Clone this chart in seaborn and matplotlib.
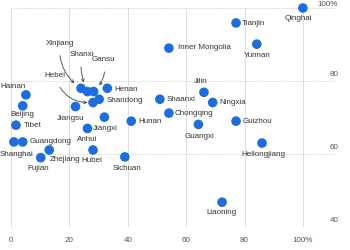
import matplotlib
matplotlib.use("Agg")
import matplotlib.pyplot as plt
import seaborn as sns
import pandas as pd

provinces = ["Qinghai", "Tianjin", "Yunnan", "Inner Mongolia", "Jilin", "Ningxia",
             "Shaanxi", "Chongqing", "Guizhou", "Guangxi", "Heilongjiang", "Liaoning",
             "Hunan", "Sichuan", "Hubei", "Anhui", "Jiangxi", "Jiangsu", "Henan",
             "Shandong", "Hebei", "Gansu", "Shanxi", "Xinjiang", "Hainan", "Beijing",
             "Tibet", "Shanghai", "Guangdong", "Zhejiang", "Fujian"]
x_vals = [100.0, 77.1, 84.2, 54.1, 66.1, 69.1,
          51.0, 54.1, 77.1, 64.2, 86.0, 72.3,
          41.2, 39.0, 28.1, 26.2, 32.0, 22.1, 33.0,
          30.2, 28.1, 28.3, 26.2, 24.0, 5.1, 4.0,
          1.7, 1.0, 4.0, 13.1, 10.2]
y_vals = [100.0, 95.9, 90.1, 89.0, 76.9, 74.1,
          75.0, 71.2, 69.0, 68.1, 63.0, 46.8,
          69.0, 59.2, 61.1, 67.0, 70.1, 73.0, 78.0,
          75.0, 74.1, 77.1, 77.1, 78.0, 76.2, 73.2,
          67.9, 63.3, 63.3, 61.1, 59.0]

x_ticks = [0, 20, 40, 60, 80, 100]
x_tick_labels = ["0", "20", "40", "60", "80", "100%"]
y_ticks = [40, 60, 80, 100]
y_tick_labels = ["40", "60", "80", "100%"]

# label placement: (dx px, dy px (down positive), ha)
label_pos = {
    "Qinghai": (-5, 10, "center"), "Tianjin": (6, 1, "left"), "Yunnan": (0, 11, "center"),
    "Inner Mongolia": (9, -1, "left"), "Jilin": (-3, -11, "center"), "Ningxia": (7, 0, "left"),
    "Shaanxi": (7, 0, "left"), "Chongqing": (6, 0, "left"), "Guizhou": (7, 0, "left"),
    "Guangxi": (1, 12, "center"), "Heilongjiang": (1, 11, "center"), "Liaoning": (-1, 10, "center"),
    "Hunan": (7, 0, "left"), "Sichuan": (2, 12, "center"), "Hubei": (-1, 11, "center"),
    "Anhui": (0, 11, "center"), "Jiangxi": (-11, 11, "left"), "Jiangsu": (-5, 12, "center"),
    "Henan": (7, 1, "left"), "Shandong": (7, 1, "left"), "Hainan": (-13, -8, "center"),
    "Beijing": (0, 9, "center"), "Tibet": (8, 0, "left"), "Shanghai": (3, 13, "center"),
    "Guangdong": (7, 0, "left"), "Zhejiang": (1, 10, "left"), "Fujian": (-3, 11, "center"),
}
# arrow labels: (dx px, dy px down, rad, shrinkB)
arrow_pos = {
    "Xinjiang": (-21, -45, 0.3, 6),
    "Shanxi": (-6, -37, 0.15, 7),
    "Gansu": (10, -32, -0.3, 6),
    "Hebei": (-38, -27, 0.4, 4),
}

df = pd.DataFrame({"province": provinces, "x": x_vals, "y": y_vals})

sns.set_style("white")
plt.rcParams["font.family"] = ["Liberation Sans", "DejaVu Sans"]

fig = plt.figure(figsize=(3.5, 2.5), dpi=100)
ax = fig.add_axes([11 / 350, 1 - 227 / 250, 324 / 350, 219 / 250])

ax.set_xlim(0, 111)
ax.set_ylim(40, 100)

for xt in x_ticks:
    ax.axvline(xt, color="#dddddd", lw=0.7, zorder=0)
for yt in y_ticks:
    ax.axhline(yt, color="#cccccc", lw=0.7, ls=(0, (1, 1.5)), zorder=0)

sns.scatterplot(data=df, x="x", y="y", ax=ax, s=48, color="#1c6ee0",
                edgecolor="none", linewidth=0, legend=False, zorder=3, clip_on=False)
for coll in ax.collections:
    coll.set_clip_on(False)

k = 0.72
for name, xv, yv in zip(provinces, x_vals, y_vals):
    if name in label_pos:
        dx, dy, ha = label_pos[name]
        ax.annotate(name, (xv, yv), xytext=(dx * k, -dy * k), textcoords="offset points",
                    ha=ha, va="center", fontsize=5.8, color="#333333", zorder=4,
                    annotation_clip=False)
    elif name in arrow_pos:
        dx, dy, rad, sh = arrow_pos[name]
        ax.annotate(name, (xv, yv), xytext=(dx * k, -dy * k), textcoords="offset points",
                    ha="center", va="center", fontsize=5.8, color="#333333", zorder=4,
                    annotation_clip=False,
                    arrowprops=dict(arrowstyle="->", color="#444444", lw=0.6,
                                    connectionstyle=f"arc3,rad={rad}",
                                    shrinkA=4, shrinkB=sh, mutation_scale=5))

for yt, lab in zip(y_ticks, y_tick_labels):
    off = 0.3 if yt == max(y_ticks) else 2
    ax.annotate(lab, (1.01, yt), xycoords=ax.get_yaxis_transform(),
                xytext=(0, off), textcoords="offset points", ha="right", va="bottom",
                fontsize=5.8, color="#555555", annotation_clip=False)

ax.set_xticks(x_ticks)
ax.set_xticklabels(x_tick_labels)
ax.set_yticks([])
ax.tick_params(axis="x", length=0, pad=7, labelsize=5.8, labelcolor="#555555")
ax.set_xlabel("")
ax.set_ylabel("")
for sp in ax.spines.values():
    sp.set_visible(False)

fig.savefig("out.png", dpi=100)
